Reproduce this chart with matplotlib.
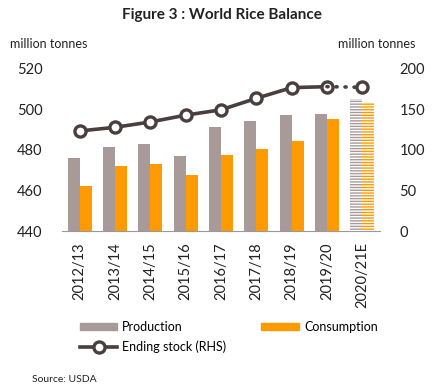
import numpy as np
from matplotlib import pyplot as plt
from matplotlib.lines import Line2D
from matplotlib.patches import Patch

plt.rcParams['font.family'] = ['Lato', 'DejaVu Sans']
plt.rcParams['hatch.linewidth'] = 1.0

PROD_C = '#A89A99'
CONS_C = '#FF9A00'
LINE_C = '#4A3E3E'

seasons = ['2012/13', '2013/14', '2014/15', '2015/16', '2016/17',
           '2017/18', '2018/19', '2019/20', '2020/21E']
production = [476.2, 481.3, 482.8, 477.0, 491.5, 494.3, 497.3, 497.8, 505.2]
consumption = [462.2, 472.1, 473.1, 467.8, 477.5, 480.5, 484.3, 495.3, 503.7]
ending_stock = [123.5, 128.0, 134.6, 143.0, 149.6, 163.8, 177.0, 178.2, 177.4]

fig = plt.figure(figsize=(4.35, 3.92), dpi=100)
ax = fig.add_axes([0.1425, 0.4107, 0.731, 0.4133])

x = np.arange(len(seasons))
w = 0.34
n = len(seasons) - 1
ax.bar(x[:n] - w/2, production[:n], w, color=PROD_C, zorder=2)
ax.bar(x[:n] + w/2, consumption[:n], w, color=CONS_C, zorder=2)
# estimate bars drawn with stripes
ax.bar(x[n] - w/2, production[n], w, facecolor='white', edgecolor=PROD_C,
       hatch='------', linewidth=0, zorder=2)
ax.bar(x[n] + w/2, consumption[n], w, facecolor='white', edgecolor=CONS_C,
       hatch='------', linewidth=0, zorder=2)

ax.set_ylim(440, 520)
ax.set_yticks([440, 460, 480, 500, 520])
ax.set_xlim(-0.5, 8.5)
ax.set_xticks(x)
ax.set_xticklabels(seasons, rotation=90, fontsize=9.5)
ax.tick_params(axis='both', length=0, labelsize=10.5, colors='#222222')
ax.tick_params(axis='y', pad=14)
ax.tick_params(axis='x', pad=8)
for s in ['top', 'left', 'right']:
    ax.spines[s].set_visible(False)
ax.spines['bottom'].set_color('#999999')

ax2 = ax.twinx()
ax2.plot(x[:n], ending_stock[:n], color=LINE_C, linewidth=2.6, marker='o',
         markersize=8, markerfacecolor='white', markeredgecolor=LINE_C,
         markeredgewidth=2.4, zorder=3)
ax2.plot(x[n-1:], ending_stock[n-1:], color=LINE_C, linewidth=2.6,
         linestyle=(0, (0.3, 2.2)), dash_capstyle='round', zorder=3)
ax2.plot(x[n:], ending_stock[n:], linestyle='none', marker='o', markersize=8,
         markerfacecolor='white', markeredgecolor=LINE_C, markeredgewidth=2.4,
         zorder=3)
ax2.set_ylim(0, 200)
ax2.set_yticks([0, 50, 100, 150, 200])
ax2.tick_params(axis='y', length=0, labelsize=10.5, pad=14, colors='#222222')
for s in ['top', 'left', 'right', 'bottom']:
    ax2.spines[s].set_visible(False)

fig.text(0.51, 0.962, 'Figure 3 : World Rice Balance', ha='center',
         va='center', fontsize=11, fontweight='bold', color='#222222')
fig.text(0.022, 0.888, 'million tonnes', ha='left', va='center',
         fontsize=9, color='#222222')
fig.text(0.955, 0.888, 'million tonnes', ha='right', va='center',
         fontsize=9, color='#222222')
fig.text(0.074, 0.031, 'Source: USDA', ha='left', va='center',
         fontsize=7.5, color='#222222')

handles = [Patch(color=PROD_C, label='Production'),
           Line2D([], [], color=LINE_C, linewidth=2.6, marker='o',
                  markersize=8, markerfacecolor='white',
                  markeredgecolor=LINE_C, markeredgewidth=2.4,
                  label='Ending stock (RHS)'),
           Patch(color=CONS_C, label='Consumption')]
fig.legend(handles=handles, ncol=2, loc='upper left',
           bbox_to_anchor=(0.172, 0.195), frameon=False, fontsize=9,
           handlelength=3.0, handleheight=0.5, handletextpad=0.4,
           columnspacing=2.8, labelspacing=0.6, borderaxespad=0)

fig.savefig('out.png', dpi=100)
